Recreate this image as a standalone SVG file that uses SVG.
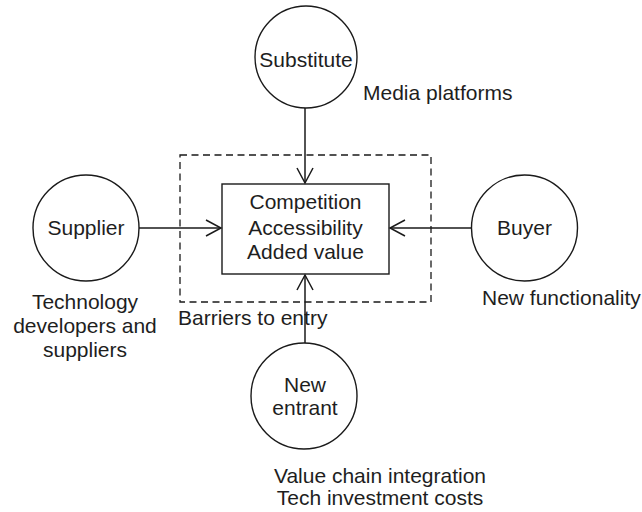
<svg xmlns="http://www.w3.org/2000/svg" width="642" height="512" viewBox="0 0 642 512">
  <style>
    .node { fill: none; stroke: #1a1a1a; stroke-width: 1.4; }
    .label { font-family: "Liberation Sans", Arial, sans-serif; font-size: 21px; fill: #1e1e1e; }
    .mid { text-anchor: middle; }
    .edge { stroke: #1a1a1a; stroke-width: 1.5; fill: none; marker-end: url(#open); }
  </style>
  <defs>
    <marker id="open" viewBox="0 0 18 18" refX="16" refY="9" markerWidth="18" markerHeight="18" markerUnits="userSpaceOnUse" orient="auto">
      <path d="M1,1 L16,9 L1,17" fill="none" stroke="#1a1a1a" stroke-width="1.5"/>
    </marker>
  </defs>
  <rect width="642" height="512" fill="#fff"/>

  <!-- boundary: barriers to entry -->
  <g id="barriers">
    <rect x="180" y="155" width="251" height="147" fill="none" stroke="#1a1a1a" stroke-width="1.3" stroke-dasharray="7,4.5"/>
    <text class="label" x="178" y="325">Barriers to entry</text>
  </g>

  <g id="connectors">
    <line class="edge" x1="305" y1="108" x2="305" y2="183"/>
    <line class="edge" x1="139" y1="228" x2="221" y2="228"/>
    <line class="edge" x1="472" y1="228" x2="390" y2="228"/>
    <line class="edge" x1="305" y1="343" x2="305" y2="275"/>
  </g>

  <g id="core">
    <rect class="node" x="222" y="184" width="167" height="90"/>
    <text class="label mid" x="305.5" y="209">Competition</text>
    <text class="label mid" x="305.5" y="235">Accessibility</text>
    <text class="label mid" x="305.5" y="259">Added value</text>
  </g>

  <g id="substitute">
    <circle class="node" cx="306" cy="57" r="51"/>
    <text class="label mid" x="306" y="67">Substitute</text>
    <text class="label" x="363" y="100">Media platforms</text>
  </g>

  <g id="supplier">
    <circle class="node" cx="86" cy="228" r="53"/>
    <text class="label mid" x="86" y="235">Supplier</text>
    <text class="label mid" x="85" y="309">Technology</text>
    <text class="label mid" x="85" y="333">developers and</text>
    <text class="label mid" x="85" y="357">suppliers</text>
  </g>

  <g id="buyer">
    <circle class="node" cx="524.5" cy="228" r="53"/>
    <text class="label mid" x="524.5" y="235">Buyer</text>
    <text class="label" x="482" y="305">New functionality</text>
  </g>

  <g id="new-entrant">
    <circle class="node" cx="304" cy="396" r="53"/>
    <text class="label mid" x="305" y="392">New</text>
    <text class="label mid" x="305" y="415">entrant</text>
    <text class="label mid" x="380" y="483">Value chain integration</text>
    <text class="label mid" x="380" y="505">Tech investment costs</text>
  </g>
</svg>
